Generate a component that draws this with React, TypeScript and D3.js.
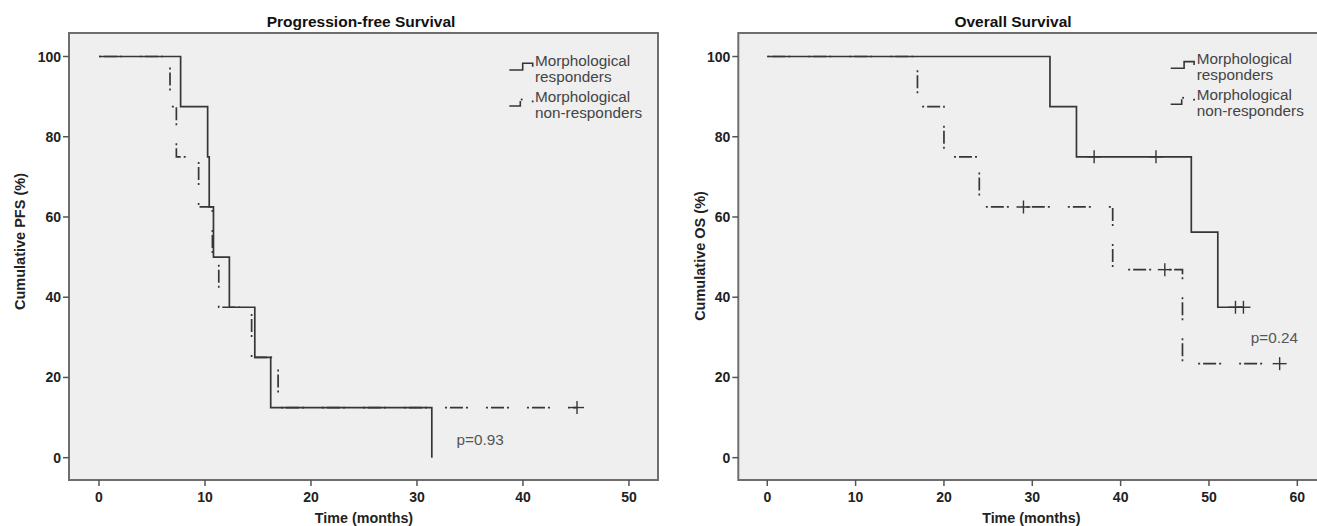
import React from "react";
import * as d3 from "d3";

// ---------- data ----------
// Progression-free survival
const pfsRespTimes = [7.7, 10.25, 10.4, 10.8, 12.3, 14.7, 16.2, 31.4];
const pfsRespSurv = [87.5, 75, 62.5, 50, 37.5, 25, 12.5, 0];
const pfsRespCensorT: number[] = [];
const pfsRespCensorS: number[] = [];

const pfsNonTimes = [6.7, 7.3, 9.4, 10.7, 11.3, 14.4, 16.9];
const pfsNonSurv = [87.5, 75, 62.5, 50, 37.5, 25, 12.5];
const pfsNonCensorT = [45.1];
const pfsNonCensorS = [12.5];

// Overall survival
const osRespTimes = [32, 35, 48, 51];
const osRespSurv = [87.5, 75, 56.25, 37.5];
const osRespCensorT = [37, 44, 53, 53.9];
const osRespCensorS = [75, 75, 37.5, 37.5];

const osNonTimes = [17, 20, 24, 39.1, 47];
const osNonSurv = [87.5, 75, 62.5, 46.875, 23.44];
const osNonCensorT = [29, 45, 58];
const osNonCensorS = [62.5, 46.875, 23.44];

const yTicks = [0, 20, 40, 60, 80, 100];
const pfsXTicks = [0, 10, 20, 30, 40, 50];
const osXTicks = [0, 10, 20, 30, 40, 50, 60];
const legendLabels = [
  ["Morphological", "responders"],
  ["Morphological", "non-responders"],
];

const FONT = "'Liberation Sans', Arial, Helvetica, sans-serif";
const LINE = "#363636";
const DASH = "2,3,13,3,2,18";

type Series = { times: number[]; surv: number[]; ct: number[]; cs: number[]; dashed: boolean };

type PanelCfg = {
  title: string;
  titleX: number;
  yLabel: string;
  yLabelX: number;
  yLabelY: number;
  xDomain: [number, number];
  xRange: [number, number];
  xTicks: number[];
  series: Series[];
  pText: string;
  pX: number;
  pY: number;
  legX: number;
  legTextX: number;
  legY: number;
  clipRight: number;
};

function buildPoints(s: Series): [number, number][] {
  const pts: [number, number][] = [[0, 100]];
  s.times.forEach((t, i) => pts.push([t, s.surv[i]]));
  const last = pts[pts.length - 1];
  const lastCensor = s.ct.length ? Math.max(...s.ct) : -Infinity;
  if (lastCensor > last[0]) pts.push([lastCensor, last[1]]);
  return pts;
}

const yScale = d3.scaleLinear().domain([-5.56, 105.86]).range([480, 33]);

function Panel({ cfg, idx }: { cfg: PanelCfg; idx: number }) {
  const x = d3.scaleLinear().domain(cfg.xDomain).range(cfg.xRange);
  const y = yScale;
  const [x0, x1] = cfg.xRange;
  const top = y(105.86);
  const bottom = y(-5.56);
  const line = d3
    .line<[number, number]>()
    .x((d) => x(d[0]))
    .y((d) => y(d[1]))
    .curve(d3.curveStepAfter);
  const clipId = `clip${idx}`;
  const ly = cfg.legY;
  return (
    <g>
      <defs>
        <clipPath id={clipId}>
          <rect x={x0} y={top} width={x1 - x0} height={bottom - top} />
        </clipPath>
      </defs>
      <rect x={x0} y={top} width={x1 - x0} height={bottom - top} fill="#efefef" stroke="#6e6e6e" strokeWidth={2} />
      {/* title */}
      <text x={cfg.titleX} y={27} textAnchor="middle" fontFamily={FONT} fontWeight="bold" fontSize={15.5} fill="#111">
        {cfg.title}
      </text>
      {/* y axis */}
      {yTicks.map((t) => (
        <g key={`y${t}`}>
          <line x1={x0 - 6} x2={x0} y1={y(t)} y2={y(t)} stroke="#555" strokeWidth={1.5} />
          <text x={x0 - 8} y={y(t) + 5} textAnchor="end" fontFamily={FONT} fontWeight="bold" fontSize={14} fill="#222">
            {t}
          </text>
        </g>
      ))}
      <text
        transform={`translate(${cfg.yLabelX},${cfg.yLabelY}) rotate(-90)`}
        textAnchor="middle"
        fontFamily={FONT}
        fontWeight="bold"
        fontSize={14.5}
        fill="#222"
      >
        {cfg.yLabel}
      </text>
      {/* x axis */}
      {cfg.xTicks.map((t) => (
        <g key={`x${t}`}>
          <line x1={x(t)} x2={x(t)} y1={bottom} y2={bottom + 6} stroke="#555" strokeWidth={1.5} />
          <text x={x(t)} y={bottom + 22} textAnchor="middle" fontFamily={FONT} fontWeight="bold" fontSize={14} fill="#222">
            {t}
          </text>
        </g>
      ))}
      <text x={(x(0) + x(cfg.xTicks[cfg.xTicks.length - 1])) / 2 + (idx === 0 ? 0 : -1)} y={523} textAnchor="middle" fontFamily={FONT} fontWeight="bold" fontSize={14.3} fill="#222">
        Time (months)
      </text>
      {/* curves */}
      <g clipPath={`url(#${clipId})`}>
        {cfg.series.map((s, i) => (
          <g key={`s${i}`}>
            <path
              d={line(buildPoints(s)) || ""}
              fill="none"
              stroke={LINE}
              strokeWidth={1.7}
              strokeDasharray={s.dashed ? DASH : undefined}
            />
            {s.ct.map((t, j) => (
              <g key={`c${j}`} stroke={LINE} strokeWidth={1.4}>
                <line x1={x(t) - 7} x2={x(t) + 7} y1={y(s.cs[j])} y2={y(s.cs[j])} />
                <line x1={x(t)} x2={x(t)} y1={y(s.cs[j]) - 6.5} y2={y(s.cs[j]) + 6.5} />
              </g>
            ))}
          </g>
        ))}
      </g>
      {/* p value */}
      <text x={cfg.pX} y={cfg.pY} fontFamily={FONT} fontSize={15.3} fill="#555">
        {cfg.pText}
      </text>
      {/* legend */}
      <path
        d={`M${cfg.legX},${ly + 4} H${cfg.legX + 13.4} V${ly - 2.7} H${cfg.legX + 23.4} V${ly + 0.7}`}
        fill="none"
        stroke={LINE}
        strokeWidth={1.6}
      />
      <path d={`M${cfg.legX},${ly + 40} H${cfg.legX + 11} V${ly + 35}`} fill="none" stroke={LINE} strokeWidth={1.6} />
      <rect x={cfg.legX + 11.5} y={ly + 32.6} width={1.8} height={1.8} fill={LINE} />
      <rect x={cfg.legX + 22.5} y={ly + 34.5} width={1.8} height={1.8} fill={LINE} />
      {legendLabels.map((lab, i) => (
        <text key={`l${i}`} fontFamily={FONT} fontSize={15.3} fill="#444">
          <tspan x={cfg.legTextX} y={ly + i * 36}>
            {lab[0]}
          </tspan>
          <tspan x={cfg.legTextX} y={ly + i * 36 + 15.5}>
            {lab[1]}
          </tspan>
        </text>
      ))}
    </g>
  );
}

const panels: PanelCfg[] = [
  {
    title: "Progression-free Survival",
    titleX: 361,
    yLabel: "Cumulative PFS (%)",
    yLabelX: 25,
    yLabelY: 241.5,
    xDomain: [-2.83, 52.74],
    xRange: [69, 658],
    xTicks: pfsXTicks,
    series: [
      { times: pfsRespTimes, surv: pfsRespSurv, ct: pfsRespCensorT, cs: pfsRespCensorS, dashed: false },
      { times: pfsNonTimes, surv: pfsNonSurv, ct: pfsNonCensorT, cs: pfsNonCensorS, dashed: true },
    ],
    pText: "p=0.93",
    pX: 456.5,
    pY: 445,
    legX: 509.3,
    legTextX: 535,
    legY: 66,
    clipRight: 658,
  },
  {
    title: "Overall Survival",
    titleX: 1013,
    yLabel: "Cumulative OS (%)",
    yLabelX: 705,
    yLabelY: 256,
    xDomain: [-3.28, 63.7],
    xRange: [738.3, 1330],
    xTicks: osXTicks,
    series: [
      { times: osRespTimes, surv: osRespSurv, ct: osRespCensorT, cs: osRespCensorS, dashed: false },
      { times: osNonTimes, surv: osNonSurv, ct: osNonCensorT, cs: osNonCensorS, dashed: true },
    ],
    pText: "p=0.24",
    pX: 1250.7,
    pY: 343.3,
    legX: 1170.7,
    legTextX: 1196.7,
    legY: 64.3,
    clipRight: 1330,
  },
];

export default function App() {
  return (
    <svg
      width={1317}
      height={526}
      viewBox="0 0 1317 526"
      style={{ position: "absolute", left: 0, top: 0, background: "#fff" }}
    >
      <rect x={0} y={0} width={1317} height={526} fill="#fff" />
      {panels.map((p, i) => (
        <Panel key={i} cfg={p} idx={i} />
      ))}
    </svg>
  );
}
